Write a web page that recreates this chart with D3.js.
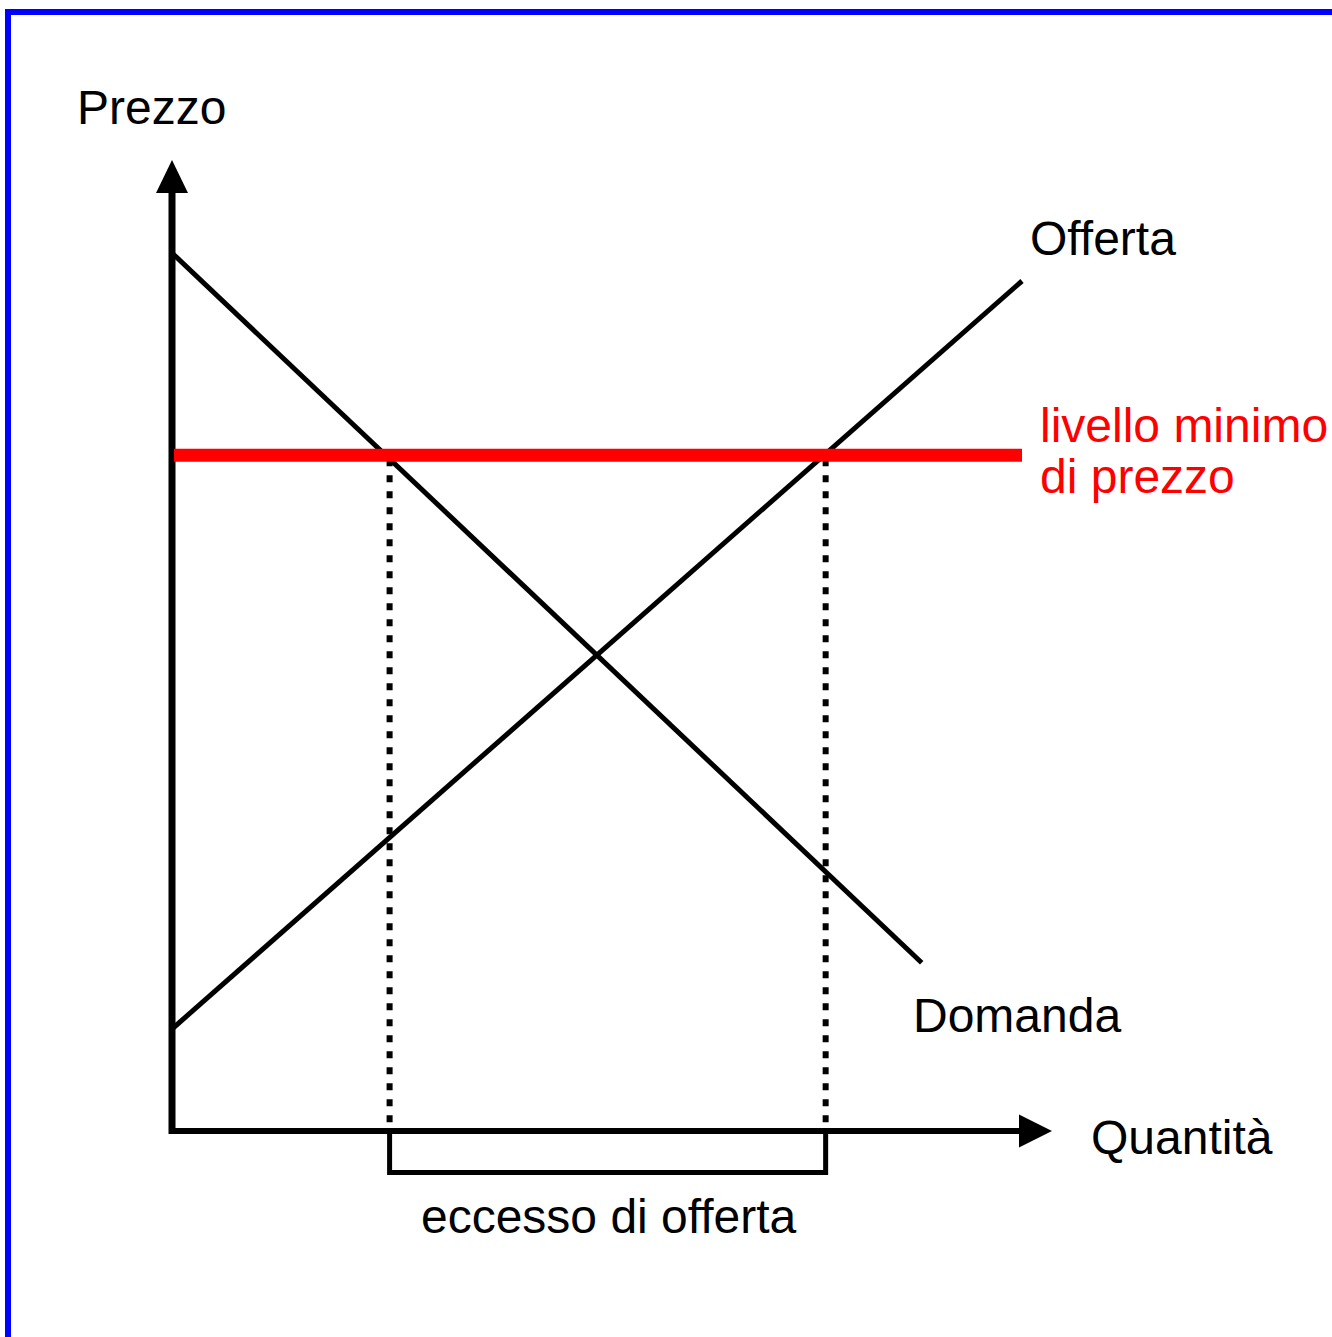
<!DOCTYPE html>
<html>
<head>
<meta charset="utf-8">
<script src="https://cdn.jsdelivr.net/npm/d3@7"></script>
<style>
  html, body { margin: 0; padding: 0; background: #fff; }
  svg { display: block; font-family: "Liberation Sans", Arial, sans-serif; }
</style>
</head>
<body>
<script>
(() => {
    // curves in data units (quantity, price)
    const demand = [[0, 103.3], [88.2, 19.8]]
    const supply = [[0, 12], [100, 100]]
    const priceFloor = 79.5
    const floorRange = [0, 100]
    // quantities where the floor meets demand and supply
    const excessBounds = [25.6, 76.9]
    const labels = {
        price: "Prezzo",
        quantity: "Quantità",
        supply: "Offerta",
        demand: "Domanda",
        floor: ["livello minimo", "di prezzo"],
        excess: "eccesso di offerta"
    }

    const W = 1332, H = 1337
    const svg = d3.select("body")
        .append("svg")
        .attr("width", W)
        .attr("height", H)

    const x = d3.scaleLinear().domain([0, 100]).range([172, 1022])
    const y = d3.scaleLinear().domain([0, 100]).range([1131, 281])
    const line = d3.line().x((d) => x(d[0])).y((d) => y(d[1]))

    // blue frame (only top and left visible)
    svg.append("rect")
        .attr("x", 8).attr("y", 12)
        .attr("width", 1400).attr("height", 1400)
        .style("fill", "none")
        .style("stroke", "#0000ff")
        .style("stroke-width", 6)

    // axes with arrow heads
    svg.append("line")
        .attr("x1", x(0)).attr("y1", y(0) + 3)
        .attr("x2", x(0)).attr("y2", 192)
        .style("stroke", "#000").style("stroke-width", 7)
    svg.append("path")
        .attr("d", `M${x(0)},160L${x(0) + 16},193L${x(0) - 16},193Z`)
        .style("fill", "#000")
    svg.append("line")
        .attr("x1", x(0) - 3).attr("y1", y(0))
        .attr("x2", 1020).attr("y2", y(0))
        .style("stroke", "#000").style("stroke-width", 6)
    svg.append("path")
        .attr("d", `M1052,${y(0)}L1019,${y(0) - 16.5}L1019,${y(0) + 16.5}Z`)
        .style("fill", "#000")

    // demand and supply
    svg.selectAll(".curve")
        .data([demand, supply])
        .join("path")
        .attr("class", "curve")
        .attr("d", line)
        .style("fill", "none")
        .style("stroke", "#000")
        .style("stroke-width", 5)

    // dotted drop lines
    svg.selectAll(".drop")
        .data(excessBounds)
        .join("line")
        .attr("class", "drop")
        .attr("x1", (d) => x(d)).attr("x2", (d) => x(d))
        .attr("y1", y(priceFloor) + 4).attr("y2", y(0) - 4)
        .style("stroke", "#000")
        .style("stroke-width", 6)
        .style("stroke-dasharray", "7 9")

    // price floor
    svg.append("line")
        .attr("x1", x(floorRange[0]) + 2).attr("x2", x(floorRange[1]))
        .attr("y1", y(priceFloor)).attr("y2", y(priceFloor))
        .style("stroke", "#ff0000")
        .style("stroke-width", 13)

    // bracket for excess supply
    const bY = y(0) + 41.5
    svg.append("path")
        .attr("d", `M${x(excessBounds[0])},${y(0)}V${bY}H${x(excessBounds[1])}V${y(0)}`)
        .style("fill", "none")
        .style("stroke", "#000")
        .style("stroke-width", 5)

    const text = (t, tx, ty, color = "#000", anchor = "start") =>
        svg.append("text")
            .attr("x", tx).attr("y", ty)
            .attr("text-anchor", anchor)
            .style("font-size", "48px")
            .style("fill", color)
            .text(t)

    text(labels.price, 77, 124)
    text(labels.supply, 1030, 255)
    text(labels.demand, 913, 1032)
    text(labels.quantity, 1091, 1154)
    text(labels.floor[0], 1040, 442, "#ff0000")
    text(labels.floor[1], 1040, 493, "#ff0000")
    text(labels.excess, (x(excessBounds[0]) + x(excessBounds[1])) / 2 + 1, 1233, "#000", "middle")
})()
</script>
</body>
</html>
